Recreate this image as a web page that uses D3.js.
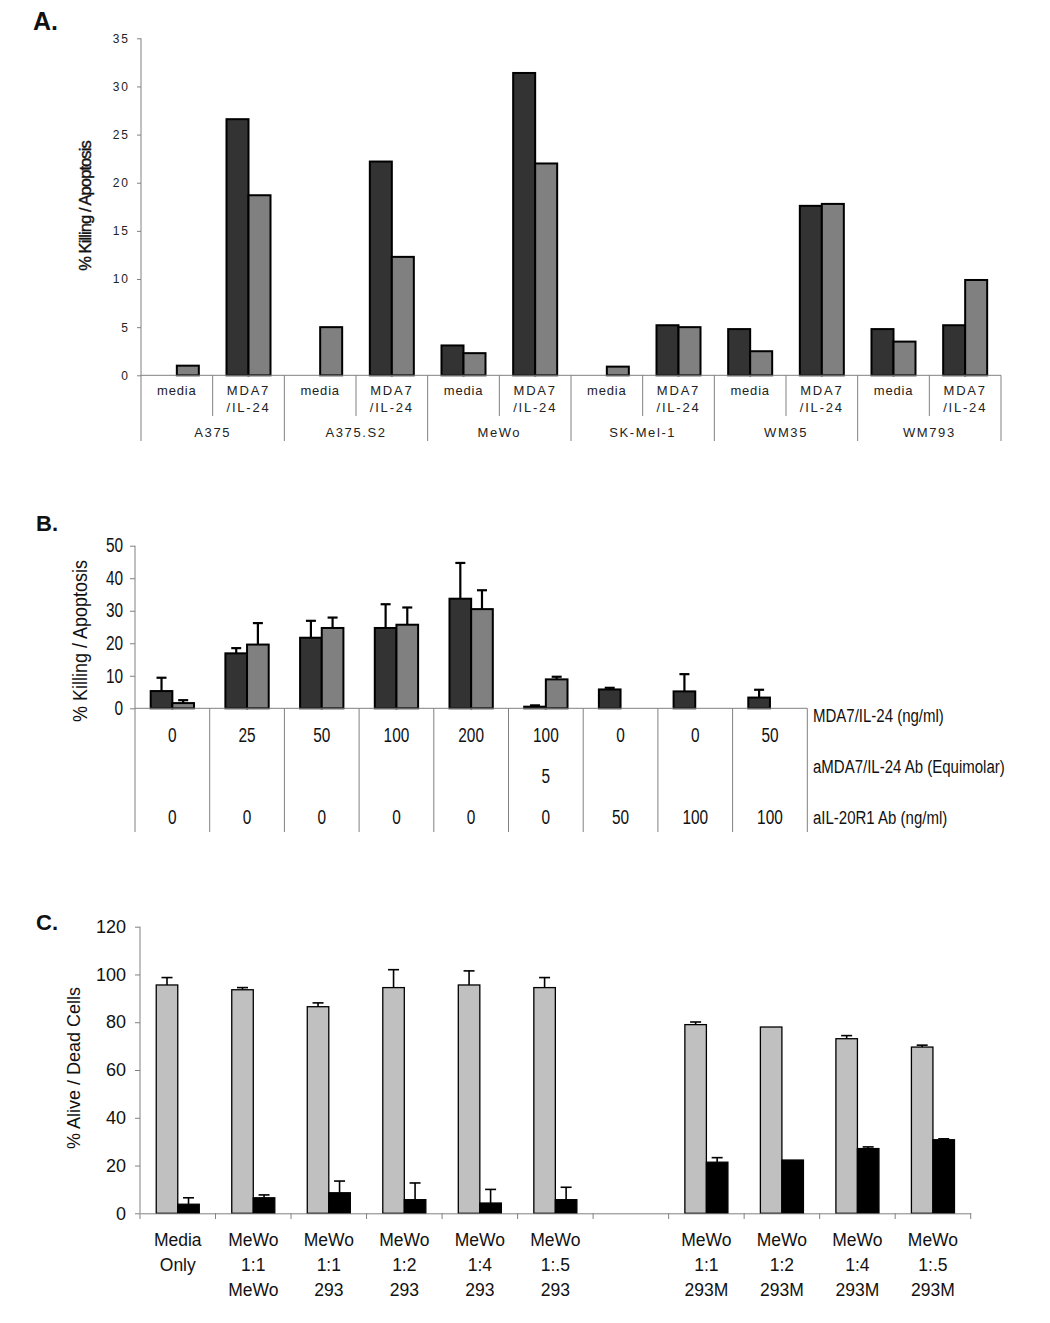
<!DOCTYPE html>
<html><head><meta charset="utf-8">
<script src="https://cdn.jsdelivr.net/npm/d3@7"></script>
<style>
html,body{margin:0;padding:0;background:#fff;}
svg{display:block;font-family:"Liberation Sans",Arial,sans-serif;}
</style></head>
<body>
<svg id="chart" width="1050" height="1323"></svg>
<script>
// ---------- Panel A data ----------
const cellLinesA = ["A375","A375.S2","MeWo","SK-Mel-1","WM35","WM793"];
const treatmentsA = ["media","MDA7/IL-24"];
const darkA = [0, 26.6, 0, 22.2, 3.1, 31.4, 0, 5.2, 4.8, 17.6, 4.8, 5.2];
const grayA = [1.0, 18.7, 5.0, 12.3, 2.3, 22.0, 0.9, 5.0, 2.5, 17.8, 3.5, 9.9];
const ticksA = [0,5,10,15,20,25,30,35];

// ---------- Panel B data ----------
const mdaB  = ["0","25","50","100","200","100","0","0","50"];
const abB   = ["","","","","","5","","",""];
const il20B = ["0","0","0","0","0","0","50","100","100"];
const rowLabelsB = ["MDA7/IL-24 (ng/ml)","aMDA7/IL-24 Ab (Equimolar)","aIL-20R1 Ab (ng/ml)"];
const darkB    = [5.3, 16.9, 21.7, 24.7, 33.7, 0.5, 5.8, 5.2, 3.3];
const darkErrB = [4.1, 1.6, 5.2, 7.3, 11.0, 0.4, 0.5, 5.3, 2.4];
const grayB    = [1.6, 19.6, 24.7, 25.7, 30.5, 8.9, 0, 0, 0];
const grayErrB = [0.9, 6.6, 3.2, 5.3, 5.8, 0.8, 0, 0, 0];
const ticksB = [0,10,20,30,40,50];

// ---------- Panel C data ----------
const labelsC = [["Media","Only"],["MeWo","1:1","MeWo"],["MeWo","1:1","293"],["MeWo","1:2","293"],
  ["MeWo","1:4","293"],["MeWo","1:.5","293"],[],["MeWo","1:1","293M"],["MeWo","1:2","293M"],
  ["MeWo","1:4","293M"],["MeWo","1:.5","293M"]];
const aliveC    = [95.6, 93.6, 86.5, 94.5, 95.6, 94.5, null, 79.0, 78.0, 73.1, 69.6];
const aliveErrC = [3.1, 0.9, 1.6, 7.5, 5.9, 4.2, null, 1.1, 0, 1.3, 0.8];
const deadC     = [3.8, 6.5, 8.6, 5.7, 4.3, 5.7, null, 21.4, 22.3, 27.1, 30.8];
const deadErrC  = [2.7, 1.2, 4.9, 7.0, 5.7, 5.2, null, 1.9, 0, 0.7, 0.4];
const ticksC = [0,20,40,60,80,100,120];

const svg = d3.select("#chart");
const AXIS = "#808080";
const NX = 0.79; // horizontal compression used for panel B text

function errBar(g, cx, yTop, yErr, capW, sw){
  g.append("line").attr("x1",cx).attr("x2",cx).attr("y1",yTop).attr("y2",yErr)
    .attr("stroke","#000").attr("stroke-width",sw);
  g.append("line").attr("x1",cx-capW/2).attr("x2",cx+capW/2).attr("y1",yErr).attr("y2",yErr)
    .attr("stroke","#000").attr("stroke-width",sw);
}
function ntext(g, x, y, s, size, anchor){
  return g.append("text").attr("transform",`translate(${x},${y}) scale(${NX},1)`)
    .attr("text-anchor",anchor).attr("font-size",size).attr("fill","#111").text(s);
}

// ================= Panel A =================
(function(){
  const g = svg.append("g");
  const idx = d3.range(darkA.length);
  const x = d3.scaleBand().domain(idx).range([141,1001]).padding(0);
  const y = d3.scaleLinear().domain([0,35]).range([375.3,38.3]);
  const bw = x.bandwidth()*0.307;

  const ax = g.append("g").attr("transform","translate(141,0)")
    .call(d3.axisLeft(y).tickValues(ticksA).tickSize(4).tickPadding(7));
  ax.select(".domain").attr("stroke",AXIS).attr("d","M0,38.3V441");
  ax.selectAll(".tick line").attr("stroke",AXIS);
  ax.selectAll(".tick text").attr("font-size",12).attr("letter-spacing","2px").attr("fill","#222");

  g.append("text").attr("transform","translate(91,206) rotate(-90)").attr("text-anchor","middle")
    .attr("font-size",16.5).attr("letter-spacing","-0.9px").attr("fill","#111").attr("stroke","#111").attr("stroke-width",0.4)
    .text("% Killing / Apoptosis");

  g.selectAll(".d").data(idx.filter(i=>darkA[i]>0)).join("rect")
    .attr("x",i=>x(i)+x.bandwidth()/2-bw).attr("width",bw)
    .attr("y",i=>y(darkA[i])).attr("height",i=>y(0)-y(darkA[i]))
    .attr("fill","#333333").attr("stroke","#000").attr("stroke-width",2);
  g.selectAll(".gA").data(idx.filter(i=>grayA[i]>0)).join("rect")
    .attr("x",i=>x(i)+x.bandwidth()/2).attr("width",bw)
    .attr("y",i=>y(grayA[i])).attr("height",i=>y(0)-y(grayA[i]))
    .attr("fill","#808080").attr("stroke","#000").attr("stroke-width",2);

  g.append("line").attr("x1",141).attr("x2",1001).attr("y1",y(0)).attr("y2",y(0)).attr("stroke",AXIS);
  idx.forEach(i=>{
    const isGroup = (i%2===0);
    if(i>0) g.append("line").attr("x1",x(i)).attr("x2",x(i)).attr("y1",y(0)).attr("y2",isGroup?441:416).attr("stroke",AXIS);
    const cx = x(i)+x.bandwidth()/2;
    const t = treatmentsA[i%2];
    if(t==="media"){
      g.append("text").attr("x",cx).attr("y",395).attr("text-anchor","middle").attr("font-size",13)
        .attr("letter-spacing","0.8px").attr("fill","#222").text(t);
    } else {
      g.append("text").attr("x",cx).attr("y",395).attr("text-anchor","middle").attr("font-size",13)
        .attr("letter-spacing","1.8px").attr("fill","#222").text("MDA7");
      g.append("text").attr("x",cx).attr("y",412).attr("text-anchor","middle").attr("font-size",13)
        .attr("letter-spacing","1.8px").attr("fill","#222").text("/IL-24");
    }
  });
  g.append("line").attr("x1",1001).attr("x2",1001).attr("y1",y(0)).attr("y2",441).attr("stroke",AXIS);
  cellLinesA.forEach((c,k)=>{
    const cx = x(2*k+1);
    g.append("text").attr("x",cx).attr("y",437).attr("text-anchor","middle").attr("font-size",13)
      .attr("letter-spacing","1.6px").attr("fill","#222").text(c);
  });
  g.append("text").attr("x",33).attr("y",30).attr("font-size",25).attr("font-weight","bold").attr("fill","#111").text("A.");
})();

// ================= Panel B =================
(function(){
  const g = svg.append("g");
  const idx = d3.range(darkB.length);
  const x = d3.scaleBand().domain(idx).range([135,807.3]).padding(0);
  const y = d3.scaleLinear().domain([0,50]).range([708.3,545.7]);
  const bw = x.bandwidth()*0.29;

  const ax = g.append("g").attr("transform","translate(135,0)")
    .call(d3.axisLeft(y).tickValues(ticksB).tickSize(5).tickPadding(10));
  ax.select(".domain").attr("stroke",AXIS).attr("d","M0,545.7V832");
  ax.selectAll(".tick line").attr("stroke",AXIS);
  ax.selectAll(".tick text").attr("font-size",19.5).attr("fill","#111").attr("transform",`scale(${NX},1)`);

  g.append("text").attr("transform",`translate(87,641) rotate(-90) scale(0.9,1)`).attr("text-anchor","middle")
    .attr("font-size",20).attr("fill","#111").text("% Killing / Apoptosis");

  idx.forEach(i=>{
    const cx = x(i)+x.bandwidth()/2;
    if(darkB[i]>0) errBar(g, cx-bw/2, y(darkB[i]), y(darkB[i]+darkErrB[i]), 10, 2.2);
    if(grayB[i]>0) errBar(g, cx+bw/2, y(grayB[i]), y(grayB[i]+grayErrB[i]), 10, 2.2);
  });
  g.selectAll(".dB").data(idx.filter(i=>darkB[i]>0)).join("rect")
    .attr("x",i=>x(i)+x.bandwidth()/2-bw).attr("width",bw)
    .attr("y",i=>y(darkB[i])).attr("height",i=>y(0)-y(darkB[i]))
    .attr("fill","#333333").attr("stroke","#000").attr("stroke-width",2);
  g.selectAll(".gB").data(idx.filter(i=>grayB[i]>0)).join("rect")
    .attr("x",i=>x(i)+x.bandwidth()/2).attr("width",bw)
    .attr("y",i=>y(grayB[i])).attr("height",i=>y(0)-y(grayB[i]))
    .attr("fill","#808080").attr("stroke","#000").attr("stroke-width",2);

  g.append("line").attr("x1",135).attr("x2",807.3).attr("y1",y(0)).attr("y2",y(0)).attr("stroke",AXIS);
  idx.forEach(i=>{
    if(i>0) g.append("line").attr("x1",x(i)).attr("x2",x(i)).attr("y1",y(0)).attr("y2",832).attr("stroke",AXIS);
    const cx = x(i)+x.bandwidth()/2;
    [[mdaB,742],[abB,782.5],[il20B,823.5]].forEach(([arr,yy])=>{
      if(arr[i]!=="") ntext(g, cx, yy, arr[i], 19.5, "middle");
    });
  });
  g.append("line").attr("x1",807.3).attr("x2",807.3).attr("y1",y(0)).attr("y2",832).attr("stroke",AXIS);
  [722,773,823.5].forEach((yy,k)=>{ ntext(g, 813, yy, rowLabelsB[k], 19, "start"); });
  g.append("text").attr("x",36).attr("y",531).attr("font-size",22).attr("font-weight","bold").attr("fill","#111").text("B.");
})();

// ================= Panel C =================
(function(){
  const g = svg.append("g");
  const idx = d3.range(aliveC.length);
  const x = d3.scaleBand().domain(idx).range([140,970.7]).padding(0);
  const y = d3.scaleLinear().domain([0,120]).range([1213.3,926.7]);
  const bw = x.bandwidth()*0.285;

  const ax = g.append("g").attr("transform","translate(140,0)")
    .call(d3.axisLeft(y).tickValues(ticksC).tickSize(5).tickPadding(9));
  ax.select(".domain").attr("stroke",AXIS).attr("d","M0,926.7V1213.3");
  ax.selectAll(".tick line").attr("stroke",AXIS);
  ax.selectAll(".tick text").attr("font-size",18).attr("fill","#111");

  g.append("text").attr("transform","translate(80,1068) rotate(-90)").attr("text-anchor","middle")
    .attr("font-size",18).attr("fill","#111").text("% Alive / Dead Cells");

  const valid = idx.filter(i=>aliveC[i]!==null);
  valid.forEach(i=>{
    const cx = x(i)+x.bandwidth()/2;
    if(aliveErrC[i]>0) errBar(g, cx-bw/2, y(aliveC[i]), y(aliveC[i]+aliveErrC[i]), 11, 1.6);
    if(deadErrC[i]>0) errBar(g, cx+bw/2, y(deadC[i]), y(deadC[i]+deadErrC[i]), 11, 1.6);
  });
  g.selectAll(".aC").data(valid).join("rect")
    .attr("x",i=>x(i)+x.bandwidth()/2-bw).attr("width",bw)
    .attr("y",i=>y(aliveC[i])).attr("height",i=>y(0)-y(aliveC[i]))
    .attr("fill","#c0c0c0").attr("stroke","#000").attr("stroke-width",1.3);
  g.selectAll(".dC").data(valid).join("rect")
    .attr("x",i=>x(i)+x.bandwidth()/2).attr("width",bw)
    .attr("y",i=>y(deadC[i])).attr("height",i=>y(0)-y(deadC[i]))
    .attr("fill","#000").attr("stroke","#000").attr("stroke-width",1.3);

  const axb = g.append("g").attr("transform","translate(0,1213.3)")
    .call(d3.axisBottom(x).tickValues([]).tickSizeOuter(0));
  axb.select(".domain").attr("stroke",AXIS);
  idx.concat([idx.length]).forEach(i=>{
    const xx = i<idx.length ? x(i) : 970.7;
    g.append("line").attr("x1",xx).attr("x2",xx).attr("y1",1213.3).attr("y2",1219).attr("stroke",AXIS);
  });
  idx.forEach(i=>{
    const cx = x(i)+x.bandwidth()/2;
    labelsC[i].forEach((s,k)=>{
      g.append("text").attr("x",cx).attr("y",1246+k*25).attr("text-anchor","middle")
        .attr("font-size",17.5).attr("fill","#111").text(s);
    });
  });
  g.append("text").attr("x",36).attr("y",930).attr("font-size",22).attr("font-weight","bold").attr("fill","#111").text("C.");
})();
</script>
</body></html>
